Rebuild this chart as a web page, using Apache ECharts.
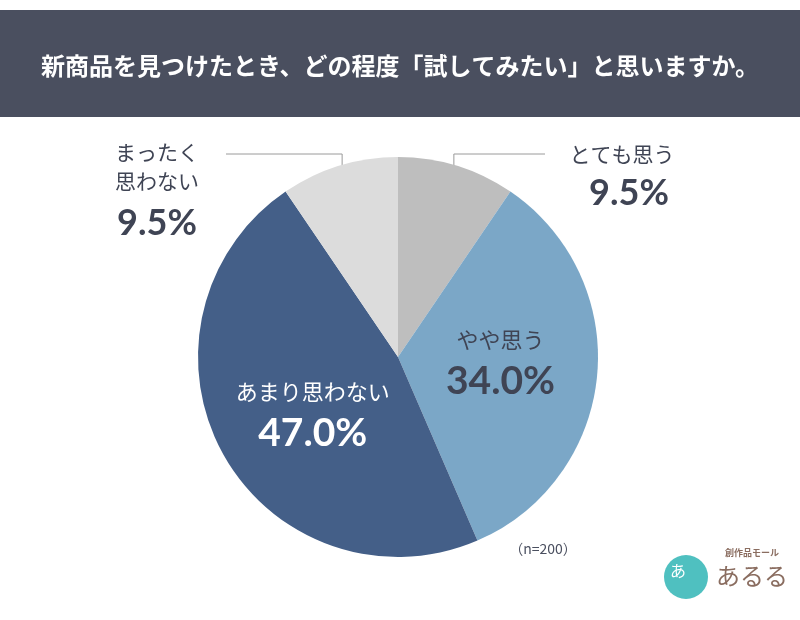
<!DOCTYPE html>
<html>
<head>
<meta charset="utf-8">
<script src="https://cdn.jsdelivr.net/npm/echarts@6/dist/echarts.min.js"></script>
<style>
  html, body { margin: 0; padding: 0; background: #fff; }
  #chart { width: 800px; height: 620px; }
</style>
</head>
<body>
<div id="chart"></div>
<script>
// Data
const titleText = '新商品を見つけたとき、どの程度「試してみたい」と思いますか。';
const categories = ['とても思う', 'やや思う', 'あまり思わない', 'まったく思わない'];
const labelNames = ['とても思う', 'やや思う', 'あまり思わない', 'まったく\n思わない'];
const values = [9.5, 34.0, 47.0, 9.5];
const colors = ['#bebebe', '#7ba7c7', '#445f88', '#dcdcdc'];
const sampleNote = '（n=200）';

const cx = 398, cy = 357, radius = 200;
const total = values.reduce((a, b) => a + b, 0);

// mid angle of each slice, clockwise from 12 o'clock (radians)
const midAngles = [];
let acc = 0;
values.forEach(v => {
    midAngles.push((acc + v / 2) / total * Math.PI * 2);
    acc += v;
});

const darkText = '#3f4454';
const pctFont = 'Lato, "Noto Sans CJK JP", sans-serif';
const jpFont = '"Noto Sans CJK JP", sans-serif';

// Outside label spots (layout only)
const outside = {
    0: { x: 622, y: 140, lineY: 154, lineX: 545 },
    3: { x: 157, y: 138, lineY: 154, lineX: 226 }
};
// nudges for inside labels
const insideShift = {
    1: { dx: 0, dy: 0 },
    2: { dx: 5, dy: 12 }
};

const seriesData = values.map((v, i) => {
    const isOut = outside[i] !== undefined;
    const txt = i === 2 ? '#ffffff' : darkText;
    return {
        name: categories[i],
        value: v,
        itemStyle: { color: colors[i] },
        label: {
            position: isOut ? 'outside' : 'inside',
            formatter: '{n|' + labelNames[i].split('\n').join('}\n{n|') + '}\n{p|' + v.toFixed(1) + '%}',
            rich: {
                n: {
                    fontFamily: jpFont,
                    fontSize: isOut ? 21 : 22,
                    lineHeight: isOut ? 29 : 30,
                    color: txt
                },
                p: {
                    fontFamily: pctFont,
                    fontWeight: 'bold',
                    fontSize: isOut ? 36 : 39,
                    lineHeight: i === 3 ? 54 : (isOut ? 48 : 54),
                    color: txt,
                    padding: i === 0 ? [0, 0, 0, 14] : 0
                }
            }
        },
        labelLine: { show: isOut }
    };
});

const chart = echarts.init(document.getElementById('chart'));
chart.setOption({
    backgroundColor: '#ffffff',
    animation: false,
    graphic: [
        {
            type: 'rect',
            shape: { x: 0, y: 10, width: 800, height: 107 },
            style: { fill: '#4a4f5f' },
            z: 0
        },
        {
            type: 'text',
            x: 400, y: 66,
            style: {
                text: titleText,
                fill: '#ffffff',
                font: 'bold 24px "Noto Sans CJK JP", sans-serif',
                textAlign: 'center',
                textVerticalAlign: 'middle'
            }
        },
        {
            type: 'text',
            x: 543, y: 549,
            style: {
                text: sampleNote,
                fill: '#4a4f5f',
                font: '14px "Noto Sans CJK JP", sans-serif',
                textAlign: 'center',
                textVerticalAlign: 'middle'
            }
        },
        // logo
        {
            type: 'circle',
            shape: { cx: 686, cy: 577, r: 22 },
            style: { fill: '#4fc0c0' }
        },
        {
            type: 'text',
            x: 678, y: 571,
            style: {
                text: 'あ',
                fill: '#ffffff',
                font: '16px "Noto Sans CJK JP", sans-serif',
                textAlign: 'center',
                textVerticalAlign: 'middle'
            }
        },
        {
            type: 'text',
            x: 752, y: 553,
            style: {
                text: '創作品モール',
                fill: '#8a6d60',
                font: 'bold 9px "Noto Sans CJK JP", sans-serif',
                textAlign: 'center',
                textVerticalAlign: 'middle'
            }
        },
        {
            type: 'text',
            x: 752, y: 576,
            style: {
                text: 'あるる',
                fill: '#8a6d60',
                font: '24px "Noto Sans CJK JP", sans-serif',
                textAlign: 'center',
                textVerticalAlign: 'middle'
            }
        }
    ],
    series: [{
        type: 'pie',
        center: [cx, cy],
        radius: ['0%', radius],
        startAngle: 90,
        clockwise: true,
        silent: true,
        data: seriesData,
        label: { show: true, align: 'center' },
        labelLine: {
            lineStyle: { color: '#9a9a9a', width: 1 }
        },
        labelLayout: function (params) {
            const spot = outside[params.dataIndex];
            if (!spot) return insideShift[params.dataIndex] || {};
            const a = midAngles[params.dataIndex];
            const sx = cx + radius * 0.95 * Math.sin(a);
            const sy = cy - radius * 0.95 * Math.cos(a);
            return {
                x: spot.x,
                y: spot.y,
                align: 'center',
                verticalAlign: 'top',
                labelLinePoints: [[sx, sy], [sx, spot.lineY], [spot.lineX, spot.lineY]]
            };
        }
    }]
});
</script>
</body>
</html>
